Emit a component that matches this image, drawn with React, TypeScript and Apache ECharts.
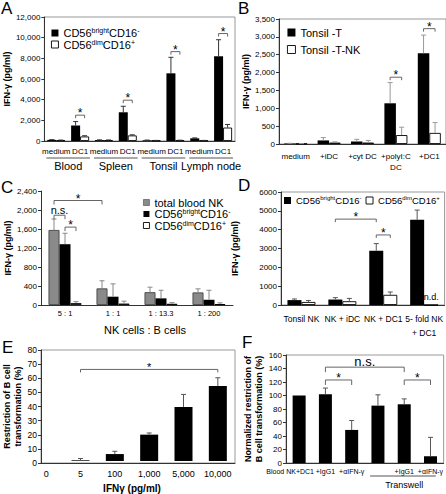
import { useEffect, useRef } from 'react';
import * as echarts from 'echarts';

const FONT = "'Liberation Sans', Arial, Helvetica, sans-serif";

// ---------- Panel A ----------
const aCategories = ['medium', 'DC1', 'medium', 'DC1', 'medium', 'DC1', 'medium', 'DC1'];
const aGroups = ['Blood', 'Spleen', 'Tonsil', 'Lymph node'];
const aBright = [110, 1500, 90, 2780, 70, 6550, 260, 8200];
const aBrightErr = [20, 380, 20, 580, 20, 1550, 40, 1600];
const aDim = [70, 440, 80, 540, 50, 60, 50, 1300];
const aDimErr = [20, 70, 20, 60, 10, 20, 10, 300];
const aTicks = { max: 12000, interval: 2000 };

// ---------- Panel B ----------
const bCategories = ['medium', '+iDC', '+cyt DC', '+polyI:C\nDC', '+DC1'];
const bTonsilT = [15, 100, 70, 1140, 2540];
const bTonsilTErr = [5, 80, 60, 580, 510];
const bTonsilTNK = [8, 40, 40, 250, 310];
const bTonsilTNKErr = [4, 20, 60, 220, 290];
const bTicks = { max: 3500, interval: 500 };

// ---------- Panel C ----------
const cCategories = ['5 : 1', '1 : 1', '1 : 13.3', '1 : 200'];
const cTotal = [1580, 350, 270, 265];
const cTotalErr = [230, 160, 105, 75];
const cBright = [1280, 175, 140, 110];
const cBrightErr = [230, 270, 170, 200];
const cDim = [40, 30, 25, 20];
const cDimErr = [30, 50, 25, 25];
const cTicks = { max: 2400, interval: 400 };

// ---------- Panel D ----------
const dCategories = ['Tonsil NK', 'NK + iDC', 'NK + DC1', '5- fold NK\n+ DC1'];
const dBright = [260, 290, 2880, 4520];
const dBrightErr = [60, 100, 380, 520];
const dDim = [160, 200, 540, 0];
const dDimErr = [80, 150, 150, 0];
const dNotDetermined = [false, false, false, true];
const dTicks = { max: 6000, interval: 1000 };

// ---------- Panel E ----------
const eCategories = ['0', '5', '100', '1,000', '5,000', '10,000'];
const eValues = [0, 0.5, 5, 19, 39, 54];
const eErr = [0, 1.3, 2, 1.2, 9, 6];
const eTicks = { max: 80, interval: 10 };

// ---------- Panel F ----------
const fCategories = ['Blood NK+DC1', '+IgG1', '+\u03b1IFN-\u03b3', '', '+IgG1', '+\u03b1IFN-\u03b3'];
const fValues = [100, 102, 49, 85, 87, 10];
const fErr = [0, 9, 14, 16, 8, 28];
const fTicks = { max: 160, interval: 20 };

// ---------- significance annotations: [category, bar slot], value level ----------
type Sig = { from: [number, number]; to: [number, number]; y: number; label: string };
const aSig: Sig[] = [
  { from: [1, -0.5], to: [1, 0.5], y: 2500, label: '*' },
  { from: [3, -0.5], to: [3, 0.5], y: 3950, label: '*' },
  { from: [5, -0.5], to: [5, 0.5], y: 8650, label: '*' },
  { from: [7, -0.5], to: [7, 0.5], y: 10400, label: '*' },
];
const bSig: Sig[] = [
  { from: [3, -0.5], to: [3, 0.5], y: 1870, label: '*' },
  { from: [4, -0.5], to: [4, 0.5], y: 3230, label: '*' },
];
const cSig: Sig[] = [
  { from: [0, -1], to: [1, -1], y: 2200, label: '*' },
  { from: [0, -1], to: [0, 0], y: 1890, label: 'n.s.' },
  { from: [0, 0], to: [0, 1], y: 1640, label: '*' },
];
const dSig: Sig[] = [
  { from: [1, -0.5], to: [2, -0.5], y: 4560, label: '*' },
  { from: [2, -0.5], to: [2, 0.5], y: 3720, label: '*' },
];
const eSig: Sig[] = [{ from: [1, 0], to: [5, 0], y: 66, label: '*' }];
const fSig: Sig[] = [
  { from: [1, 0], to: [2, 0], y: 123, label: '*' },
  { from: [1, 0], to: [4, 0], y: 142, label: 'n.s.' },
  { from: [4, 0], to: [5, 0], y: 123, label: '*' },
];

const commas = (v: number) => v.toLocaleString('en-US');
const plain = (v: number) => String(v);

const axisLine = { show: true, lineStyle: { color: '#333', width: 1 } };

function yAxis(gi: number, t: { max: number; interval: number }, name: string, nameGap: number, fmt: (v: number) => string, fs = 8, show = true) {
  return {
    type: 'value', gridIndex: gi, min: 0, max: t.max, interval: t.interval, show,
    name, nameLocation: 'middle', nameRotate: 90, nameGap,
    nameTextStyle: { fontSize: 9, fontWeight: 'bold', fontFamily: FONT, color: '#000', lineHeight: 11 },
    axisLine, axisTick: { show: true, length: 3, lineStyle: { color: '#333' } },
    axisLabel: { fontSize: fs, fontFamily: FONT, color: '#000', margin: 4, formatter: fmt },
    splitLine: { show: false },
  };
}

function xAxis(gi: number, data: string[], margin: number, fs: number, lineHeight: number, extra: any = {}) {
  const { axisLabel: extraLabel, ...rest } = extra;
  return {
    type: 'category', gridIndex: gi, data,
    axisLine, axisTick: { show: false },
    splitLine: { show: false },
    ...rest,
    axisLabel: { interval: 0, fontSize: fs, fontFamily: FONT, color: '#000', margin, lineHeight, ...(extraLabel || {}) },
  };
}

function bar(name: string, gi: number, data: any[], width: number, color: string, border?: string) {
  return {
    type: 'bar', name, xAxisIndex: gi, yAxisIndex: gi, data, barWidth: width, barGap: '0%',
    itemStyle: { color, borderColor: border || color, borderWidth: border ? 0.9 : 0 },
    silent: true, z: 2,
  };
}

function errBars(gi: number, vals: number[], errs: number[], slot: number, barW: number, color: string) {
  return {
    type: 'custom', xAxisIndex: gi, yAxisIndex: gi, silent: true, z: 3, clip: false,
    itemStyle: { color },
    data: vals.map((v, i) => [i, v, errs[i]]),
    encode: { x: 0, y: 1 },
    renderItem: (_p: any, api: any) => {
      const i = api.value(0), v = api.value(1), e = api.value(2);
      if (!e) return { type: 'group', children: [] };
      const b = api.coord([i, v]);
      const t = api.coord([i, v + e]);
      const x = b[0] + slot * barW;
      const st = { stroke: color, lineWidth: 1 };
      return {
        type: 'group', children: [
          { type: 'line', shape: { x1: x, y1: b[1], x2: x, y2: t[1] }, style: st },
          { type: 'line', shape: { x1: x - 2.5, y1: t[1], x2: x + 2.5, y2: t[1] }, style: st },
        ],
      };
    },
  };
}

function txt(text: string, x: number, y: number, fontSize: number, vAlign: string) {
  return { type: 'text', style: { text, x, y, fill: '#000', fontSize, fontFamily: FONT, align: 'center', verticalAlign: vAlign } };
}

function sigSeries(gi: number, items: Sig[], barW: number, tick: number, fontSize: number, nsSize: number) {
  return {
    type: 'custom', xAxisIndex: gi, yAxisIndex: gi, silent: true, z: 6, clip: false,
    itemStyle: { color: '#000' },
    data: items.map((it) => [it.from[0], it.y]),
    encode: { x: 0, y: 1 },
    renderItem: (p: any, api: any) => {
      const it = items[p.dataIndex];
      const p1 = api.coord([it.from[0], it.y]);
      const p2 = api.coord([it.to[0], it.y]);
      const x1 = p1[0] + it.from[1] * barW;
      const x2 = p2[0] + it.to[1] * barW;
      const y = p1[1];
      const isStar = it.label === '*';
      const fsz = isStar ? fontSize : nsSize;
      const ty = isStar ? y - 2 : y - fsz * 0.45;
      return {
        type: 'group', children: [
          { type: 'polyline', shape: { points: [[x1, y + tick], [x1, y], [x2, y], [x2, y + tick]] }, style: { stroke: '#666', lineWidth: 1, fill: null } },
          txt(it.label, (x1 + x2) / 2, ty, fsz, 'middle'),
        ],
      };
    },
  };
}

const richBig = {
  n: { fontSize: 11, fontFamily: FONT, color: '#000', lineHeight: 12 },
  s: { fontSize: 7, fontFamily: FONT, color: '#000', verticalAlign: 'top', lineHeight: 6 },
};
const richSmall = {
  n: { fontSize: 9.5, fontFamily: FONT, color: '#000', lineHeight: 11 },
  s: { fontSize: 6, fontFamily: FONT, color: '#000', verticalAlign: 'top', lineHeight: 5 },
};
const legendLabels: Record<string, string> = {
  'A-bright': '{n|CD56}{s|bright}{n|CD16}{s|-}',
  'A-dim': '{n|CD56}{s|dim}{n|CD16}{s|+}',
  'C-total': '{n|total blood NK}',
  'C-bright': '{n|CD56}{s|bright}{n|CD16}{s|-}',
  'C-dim': '{n|CD56}{s|dim}{n|CD16}{s|+}',
  'D-bright': '{n|CD56}{s|bright}{n|CD16}{s|-}',
  'D-dim': '{n|CD56}{s|dim}{n|CD16}{s|+}',
  'B-T': '{n|Tonsil -T}',
  'B-TNK': '{n|Tonsil -T-NK}',
};
const black = { color: '#000', borderColor: '#000', borderWidth: 0 };
const white = { color: '#fff', borderColor: '#000', borderWidth: 0.9 };
const gray = { color: '#8a8a8a', borderColor: '#444', borderWidth: 0.6 };

function legend(data: { name: string; itemStyle: any }[], left: number, top: number, size: number, gap: number, orient: string, rich: any = richBig) {
  return {
    orient, left, top, padding: 0, itemWidth: size, itemHeight: size, itemGap: gap, icon: 'rect',
    width: 220,
    selectedMode: false, data,
    formatter: (n: string) => legendLabels[n] || n,
    textStyle: { fontSize: rich.n.fontSize, fontFamily: FONT, color: '#000', rich },
  };
}

function groupLabels(gi: number) {
  return {
    type: 'custom', xAxisIndex: gi, yAxisIndex: gi, silent: true, clip: false, z: 4,
    itemStyle: { color: '#000' },
    data: aGroups.map((_, g) => [g * 2, 0]),
    encode: { x: 0, y: 1 },
    renderItem: (p: any, api: any) => {
      const i = api.value(0);
      const c1 = api.coord([i, 0]);
      const c2 = api.coord([i + 1, 0]);
      const band = api.size([1, 0])[0];
      const y = c1[1] + 17;
      return {
        type: 'group', children: [
          { type: 'line', shape: { x1: c1[0] - band / 2 + 2, y1: y, x2: c2[0] + band / 2 - 2, y2: y }, style: { stroke: '#555', lineWidth: 1 } },
          txt(aGroups[p.dataIndex], (c1[0] + c2[0]) / 2, y + 2, 11, 'top'),
        ],
      };
    },
  };
}

function transwell(gi: number) {
  return {
    type: 'custom', xAxisIndex: gi, yAxisIndex: gi, silent: true, clip: false, z: 4,
    itemStyle: { color: '#000' },
    data: [[4, 0]],
    encode: { x: 0, y: 1 },
    renderItem: (_p: any, api: any) => {
      const c0 = api.coord([3, 0]);
      const c1 = api.coord([4, 0]);
      const c2 = api.coord([5, 0]);
      const band = api.size([1, 0])[0];
      const y = c0[1] + 13;
      return {
        type: 'group', children: [
          { type: 'line', shape: { x1: c0[0] - 0.3 * band, y1: y, x2: c2[0] + 0.2 * band, y2: y }, style: { stroke: '#555', lineWidth: 1 } },
          txt('Transwell', c1[0], y + 4, 9, 'top'),
        ],
      };
    },
  };
}

function letter(t: string, left: number, top: number) {
  return { type: 'text', left, top, style: { text: t, fontSize: 17, fontFamily: FONT, fill: '#000' } };
}

function buildOption() {
  const frame = { show: true, borderColor: '#999', borderWidth: 1, backgroundColor: 'transparent' };
  const ifn = 'IFN-\u03b3 (pg/ml)';
  return {
    animation: false,
    backgroundColor: '#fff',
    grid: [
      { left: 41, top: 17, width: 194, height: 124, ...frame },
      { left: 279, top: 19, width: 170, height: 125, ...frame },
      { left: 41, top: 191, width: 192, height: 114, show: false },
      { left: 281, top: 192, width: 164, height: 113, ...frame },
      { left: 41, top: 350, width: 194, height: 113, ...frame },
      { left: 29, top: 350, width: 206, height: 113, show: false },
      { left: 286, top: 355, width: 159, height: 108, ...frame },
    ],
    xAxis: [
      xAxis(0, aCategories, 5, 8, 10),
      xAxis(1, bCategories, 7, 8, 11),
      xAxis(2, cCategories, 3, 7.5, 10, {
        name: 'NK cells : B cells', nameLocation: 'middle', nameGap: 19,
        nameTextStyle: { fontSize: 11, fontFamily: FONT, color: '#000', padding: [0, 0, 0, 16] },
      }),
      xAxis(3, dCategories, 7, 8.5, 14),
      xAxis(4, eCategories, 8, 9, 10, { axisLabel: { show: false } }),
      xAxis(5, eCategories, 8, 9, 10, {
        axisLine: { show: false },
        name: 'IFN\u03b3 (pg/ml)', nameLocation: 'middle', nameGap: 22,
        nameTextStyle: { fontSize: 10, fontWeight: 'bold', fontFamily: FONT, color: '#000' },
      }),
      xAxis(6, fCategories, 3, 7, 10, {
        axisLabel: {
          formatter: (v: string, i: number) => (i === 0 ? '{l|' + v + '}' : v),
          rich: { l: { fontSize: 7, fontFamily: FONT, color: '#000', padding: [0, 18, 0, 0] } },
        },
      }),
    ],
    yAxis: [
      yAxis(0, aTicks, ifn, 25, commas),
      yAxis(1, bTicks, ifn, 21, commas),
      yAxis(2, cTicks, ifn, 25, commas),
      yAxis(3, dTicks, ifn, 41, plain),
      yAxis(4, eTicks, 'Restriction of B cell\ntransformation (%)', 18, plain, 8.5),
      yAxis(5, eTicks, '', 0, plain, 8, false),
      yAxis(6, fTicks, 'Normalized restriction of\nB cell transformation (%)', 7, plain, 8),
    ],
    legend: [
      legend([{ name: 'A-bright', itemStyle: black }, { name: 'A-dim', itemStyle: white }], 51, 27, 7, 0, 'vertical'),
      legend([{ name: 'B-T', itemStyle: black }, { name: 'B-TNK', itemStyle: white }], 287, 27, 8, 6, 'vertical'),
      legend([{ name: 'C-total', itemStyle: gray }, { name: 'C-bright', itemStyle: black }, { name: 'C-dim', itemStyle: white }], 143, 197, 6, 0, 'vertical'),
      legend([{ name: 'D-bright', itemStyle: black }, { name: 'D-dim', itemStyle: white }], 284, 195, 7, 4, 'horizontal', richSmall),
    ],
    graphic: [
      letter('A', 1, 0),
      letter('B', 238, 0),
      letter('C', 1, 179),
      letter('D', 238, 177),
      letter('E', 2, 339),
      letter('F', 242, 334),
    ],
    series: [
      // A
      bar('A-bright', 0, aBright, 9, '#000'),
      bar('A-dim', 0, aDim, 9, '#fff', '#000'),
      errBars(0, aBright, aBrightErr, -0.5, 9, '#333'),
      errBars(0, aDim, aDimErr, 0.5, 9, '#333'),
      sigSeries(0, aSig, 9, 3, 12, 10),
      groupLabels(0),
      // B
      bar('B-T', 1, bTonsilT, 11.5, '#000'),
      bar('B-TNK', 1, bTonsilTNK, 11.5, '#fff', '#000'),
      errBars(1, bTonsilT, bTonsilTErr, -0.5, 11.5, '#999'),
      errBars(1, bTonsilTNK, bTonsilTNKErr, 0.5, 11.5, '#999'),
      sigSeries(1, bSig, 11.5, 3, 12, 10),
      // C
      bar('C-total', 2, cTotal, 11, '#8a8a8a', '#444'),
      bar('C-bright', 2, cBright, 11, '#000'),
      bar('C-dim', 2, cDim, 11, '#fff', '#000'),
      errBars(2, cTotal, cTotalErr, -1, 11, '#888'),
      errBars(2, cBright, cBrightErr, 0, 11, '#888'),
      errBars(2, cDim, cDimErr, 1, 11, '#888'),
      sigSeries(2, cSig, 11, 4, 12, 11),
      // D
      bar('D-bright', 3, dBright, 14, '#000'),
      bar('D-dim', 3, dDim.map((v, i) => dNotDetermined[i]
        ? { value: v, label: { show: true, position: 'top', distance: 3, formatter: 'n.d.', fontSize: 9, fontFamily: FONT, color: '#000' } }
        : v), 14, '#fff', '#000'),
      errBars(3, dBright, dBrightErr, -0.5, 14, '#555'),
      errBars(3, dDim, dDimErr, 0.5, 14, '#555'),
      sigSeries(3, dSig, 14, 3, 12, 10),
      // E
      bar('E', 5, eValues, 18, '#000'),
      errBars(5, eValues, eErr, 0, 18, '#555'),
      sigSeries(5, eSig, 18, 3, 11, 10),
      // F
      bar('F', 6, fValues, 13, '#000'),
      errBars(6, fValues, fErr, 0, 13, '#555'),
      sigSeries(6, fSig, 13, 5, 12, 13),
      transwell(6),
    ],
  };
}

export default function App() {
  const ref = useRef<HTMLDivElement>(null);
  useEffect(() => {
    const chart = echarts.init(ref.current!, null, { renderer: 'svg' });
    chart.setOption(buildOption() as any);
    return () => chart.dispose();
  }, []);
  return (
    <div
      ref={ref}
      style={{ position: 'absolute', left: 0, top: 0, width: 446, height: 494, background: '#fff' }}
    />
  );
}
